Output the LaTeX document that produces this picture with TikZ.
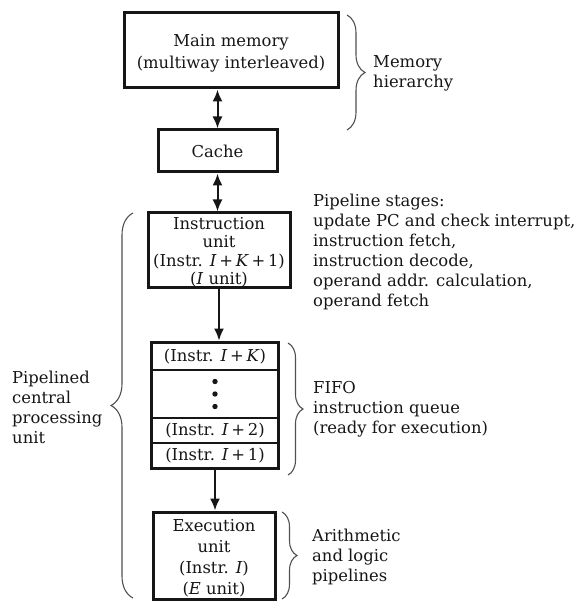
\documentclass[tikz,border=0pt]{standalone}
\usepackage{fontspec}
\setmainfont{DejaVu Serif}
\usetikzlibrary{arrows.meta,decorations.pathreplacing,fit}
\definecolor{ink}{HTML}{161616}
\definecolor{bracegray}{HTML}{505050}

\begin{document}
\begin{tikzpicture}[x=1pt,y=-1pt,
  every node/.style={font=\fontsize{16.4}{20}\selectfont, text=ink},
  unitbox/.style={draw=ink, line width=3pt, inner sep=0pt},
  boxtext/.style={align=center, inner sep=0pt},
  rowbox/.style={draw=ink, line width=1.8pt, minimum width=126pt, inner sep=0pt},
  link/.style={draw=ink, line width=2pt},
  tip/.style={-{Latex[length=12pt,width=10pt]}},
  bothtips/.style={{Latex[length=12pt,width=10pt]}-{Latex[length=12pt,width=10pt]}},
  curly/.style={draw=bracegray, line width=1.1pt, decorate,
                decoration={brace, amplitude=#1}},
  note/.style={align=left, anchor=west, inner sep=0pt}
]
\useasboundingbox (0,0) rectangle (576,601);

% memory side
\node[unitbox, minimum width=214pt, minimum height=75pt] (mm) at (231,50.5) {};
\node[boxtext, font=\fontsize{16.4}{22}\selectfont] (mmText) at ([yshift=-3pt]mm.center)
  {Main memory\\(multiway interleaved)};
\node[unitbox, minimum width=119pt, minimum height=42pt] (cache) at (217.5,151) {Cache};

% instruction unit
\node[unitbox, minimum width=142pt, minimum height=74pt] (iu) at (219,250) {};
\node[boxtext, font=\fontsize{16.4}{18.5}\selectfont] (iuText) at ([yshift=-2pt]iu.center)
  {Instruction\\unit\\(Instr. \textit{I}\,+\,\textit{K}\,+\,1)\\(\textit{I} unit)};

% FIFO instruction queue
\node[rowbox, minimum height=27pt] (r1) at (215,356.5) {(Instr. \textit{I}\,+\,\textit{K})};
\node[rowbox, minimum height=48pt] (r2) at (215,394) {};
\node[rowbox, minimum height=25pt] (r3) at (215,430.5) {(Instr. \textit{I}\,+\,2)};
\node[rowbox, minimum height=25pt] (r4) at (215,455.5) {(Instr. \textit{I}\,+\,1)};
\node[fit=(r1)(r4), draw=ink, line width=3pt, inner sep=0pt] (fifo) {};
\foreach \dy in {-12.5,0,12.5}
  \fill[ink] (r2.center) ++(0,\dy) circle (2.7pt);

% execution unit
\node[unitbox, minimum width=122pt, minimum height=87pt] (eu) at (214,555.5) {};
\node[boxtext, font=\fontsize{16.4}{21}\selectfont] (euText) at ([yshift=-2.5pt]eu.center)
  {Execution\\unit\\(Instr. \textit{I})\\(\textit{E} unit)};

% connectors
\draw[link, bothtips] (mm.south -| cache.north) -- (cache.north);
\draw[link, bothtips] (cache.south) -- (cache.south |- iu.north);
\draw[link, tip] (iu.south) -- (iu.south |- fifo.north);
\draw[link, tip] (fifo.south) -- (fifo.south |- eu.north);

% braces and their labels
\coordinate (mhTop) at (347,15);
\coordinate (mhBot) at (347,130);
\draw[curly=18pt] (mhTop) -- (mhBot);
\node[note] (mhText) at (373,73) {Memory\\hierarchy};

\node[note] (stages) at (313,252)
  {Pipeline stages:\\update PC and check interrupt,\\instruction fetch,\\instruction decode,\\operand addr. calculation,\\operand fetch};

\coordinate (fqTop) at (288,343);
\coordinate (fqBot) at (288,475);
\draw[curly=15pt] (fqTop) -- (fqBot);
\node[note] (fqText) at (313,409) {FIFO\\instruction queue\\(ready for execution)};

\coordinate (alTop) at (282,512);
\coordinate (alBot) at (282,599);
\draw[curly=15pt] (alTop) -- (alBot);
\node[note] (alText) at (312,557) {Arithmetic\\and logic\\pipelines};

\coordinate (cpuBot) at (133,598);
\coordinate (cpuTop) at (133,213);
\draw[curly=22pt] (cpuBot) -- (cpuTop);
\node[note] (cpuText) at (12,407) {Pipelined\\central\\processing\\unit};
\end{tikzpicture}
\end{document}
